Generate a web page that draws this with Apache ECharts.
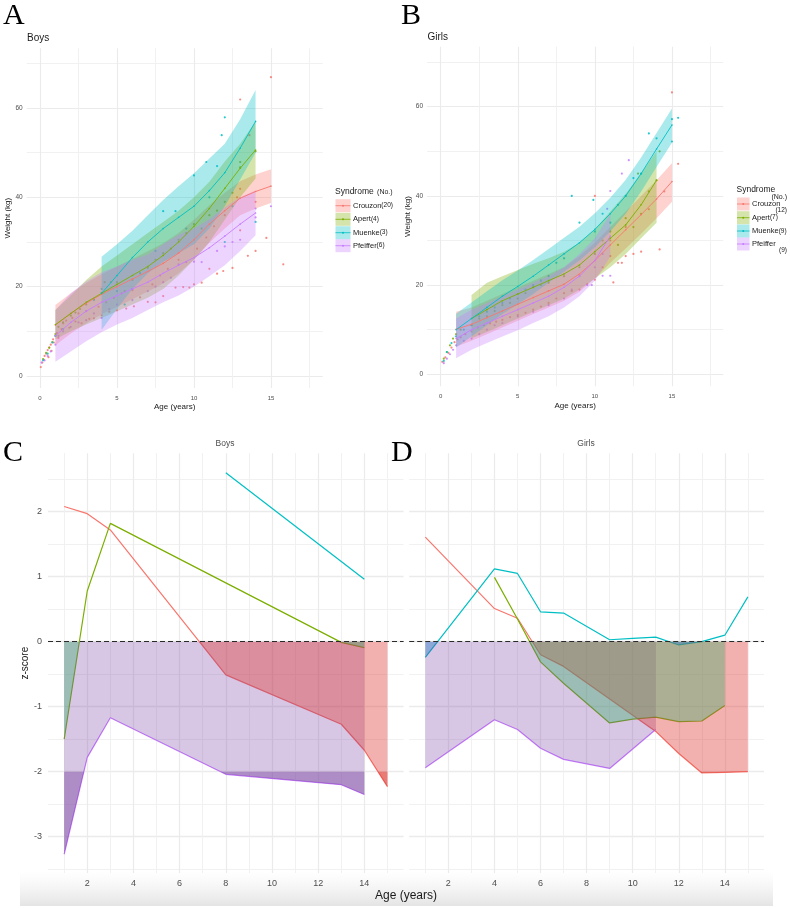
<!DOCTYPE html>
<html><head><meta charset="utf-8">
<script src="https://cdn.jsdelivr.net/npm/echarts@6/dist/echarts.min.js"></script>
<style>html,body{margin:0;padding:0;background:#fff}#c{width:790px;height:908px}</style>
</head><body><div id="c"></div>
<script>
// ---------- categories ----------
const syndromes = ['Crouzon','Apert','Muenke','Pfeiffer'];
const lineColors = ['#F8766D','#7CAE00','#00BFC4','#C77CFF'];
const zFillColors = ['#DE3934','#44AF6E','#1E78C8','#7D46A5'];
const boysCounts = [20,4,3,6];
const girlsCounts = [12,7,9,9];

// ---------- Panel A: boys weight ----------
const boysCrouzonAge  = [1,2,3,4,5,6,7,8,9,10,11,12,13,14,15];
const boysCrouzonMean = [11.4,14,16.3,18.3,20,21.7,23.4,25.2,27.5,30.5,34,37,39.8,41.3,42.5];
const boysCrouzonLow  = [6.9,9.5,11.8,13.8,15.5,17.2,18.9,20.7,23,26,29.8,33,36,37.5,38.7];
const boysCrouzonHigh = [15.9,18.5,20.8,22.8,24.5,26.2,27.9,29.7,32,35,38.2,41,43.6,45.1,46.3];
const boysApertAge  = [1,2,3,4,5,6,7,8,9,10,11,12,13,14];
const boysApertMean = [11.5,14,16.5,18.5,20.5,22.5,24.5,27,30,33.5,37.5,42,46.5,50.6];
const boysApertLow  = [8.2,10,11.5,13,14.5,16,17.5,19.5,22.5,26,30,35,40,44.2];
const boysApertHigh = [14.8,18,21.5,24.5,27,29.5,32,34.5,37,40,43.5,48,52,57];
const boysMuenkeAge  = [4,5,6,7,8,9,10,11,12,13,14];
const boysMuenkeMean = [18.5,22.5,26.5,30,33,35.5,38,41.5,45.5,51,57];
const boysMuenkeLow  = [10.3,15,19.5,23,25.5,27.5,29.5,33,38,44,50];
const boysMuenkeHigh = [26.7,29.5,32.5,36,39.4,42.5,45.4,48.7,52,57.5,64];
const boysPfeifferAge  = [1,2,3,4,5,6,7,8,9,10,11,12,13,14];
const boysPfeifferMean = [9,12,14.5,16.5,18,19.5,21,23,24.8,26.5,28.7,31.3,34,36.5];
const boysPfeifferLow  = [3.2,5.5,7.8,9.8,11.5,13,14.8,16.5,18,20,22.3,24.8,28,31.5];
const boysPfeifferHigh = [14.8,18.5,21.2,23.2,24.5,26,27.2,29.5,31.6,33,35.1,37.8,40,41.5];

const boysCrouzonPts = [[0.05,2],[0.15,3],[0.25,3.6],[0.3,4.5],[0.4,5],[0.5,5.8],[0.55,4.2],[0.6,6.4],[0.7,7],[0.75,5.6],[0.85,8.2],[0.9,7.5],[1,9],[1.1,9.6],[1.2,8.5],[1.4,10.5],[1.5,11.8],[1.7,12.4],[1.9,10.8],[2.1,13],[2.3,12.2],[2.5,14],[2.7,11.8],[3,14.5],[3.2,12.8],[3.5,12.9],[3.8,15.5],[4,13.6],[4.3,16.5],[4.5,14.4],[4.8,17.5],[5,14.7],[5.3,18.5],[5.6,15.1],[6,19.2],[6.1,15.6],[6.5,17.6],[7,16.6],[7.3,20.5],[7.5,16.5],[7.8,22.5],[8,17.9],[8.3,24],[8.8,19.8],[9,26],[9.3,19.9],[9.7,19.8],[10,20.5],[10.2,28.5],[10.5,20.9],[10.8,31],[11,24],[11.3,33.5],[11.5,22.9],[11.9,23.5],[12,36],[12.5,24.2],[12.8,40],[13,41.9],[13,32.6],[13,61.9],[13.6,53.9],[13.5,26.9],[14,28],[14,39],[14.7,30.9],[15.8,25],[15,66.9]];
const boysApertPts = [[0.2,3.8],[0.4,5.2],[0.6,6.3],[0.8,7.6],[1,9.4],[1.2,11],[1.5,12],[2,13.5],[2.3,14.2],[2.6,15],[3,16],[3.5,17.2],[4,18.6],[4.2,21],[4.6,21],[5,21],[5.5,19],[6,21.5],[6.5,23],[7,24.2],[7.5,26],[8,27.5],[8.5,28.5],[9,30.5],[9.5,32],[10,34],[10.5,33],[11,36],[11.5,37],[12,39],[12.5,41],[13,46.7],[13,47.9],[14,50.3]];
const boysMuenkePts = [[0.2,3.5],[0.5,5],[0.8,7.5],[1,9],[1.5,10.5],[3.5,17],[4,19.5],[5,19],[5.5,16],[6,19.5],[6.5,23],[7.5,28],[8,36.9],[8.8,36.9],[9.5,33],[10,44.9],[10.8,47.9],[11.5,47],[11.8,53.9],[12,57.9],[12,30],[14,34.5],[12.5,38],[11,40]];
const boysPfeifferPts = [[0.1,3],[0.3,3.5],[0.5,4.5],[0.7,5.5],[1,7],[1.2,9],[1.5,10],[2,11],[2.5,12],[3,12.5],[3.5,14],[4,13],[4.5,15],[5,16],[6,17],[7,19],[7.5,20],[8,21],[8.5,22],[9,25],[9.5,25.5],[10,25.6],[10.5,25.5],[11.5,28],[12,29],[12.5,30],[13,30.5],[14,35.5],[14,37.5],[15,38]];

// ---------- Panel B: girls weight ----------
const girlsCrouzonAge  = [1,2,3,4,5,6,7,8,9,10,11,12,13,14,15];
const girlsCrouzonMean = [10.1,11.2,12.7,14.2,15.7,17.2,18.7,20.2,22.5,25.5,29,32.4,35.8,39.3,43.2];
const girlsCrouzonLow  = [6.2,7.5,9,10.5,12,13.5,15,16.5,18.5,21.5,25,28.2,31.5,35,38.7];
const girlsCrouzonHigh = [14,15,16.5,18,19.5,21,22.5,24,26.5,29.5,33,36.5,40,43.5,47.3];
const girlsApertAge  = [2,3,4,5,6,7,8,9,10,11,12,13,14];
const girlsApertMean = [12.5,14.5,16.5,18,19.5,21,22.5,24.5,27.5,30.5,33.5,38,43.5];
const girlsApertLow  = [8.1,9.5,11,12.5,14,15.5,17,19,21.5,24,27,30.5,34];
const girlsApertHigh = [17.8,20.5,22,23.4,24.8,26,27.5,29.5,32.5,36.5,40.5,45,50];
const girlsMuenkeAge  = [1,2,3,4,5,6,7,8,9,10,11,12,13,14,15];
const girlsMuenkeMean = [10,12.5,15,17.5,19.7,22,24.5,27,29.5,32.5,36,40,45,50.5,55.9];
const girlsMuenkeLow  = [6,8.5,11,13.5,15.7,18,20.5,23,25.5,28.5,32,36,41,46.5,51.9];
const girlsMuenkeHigh = [13.6,16.1,18.6,21.1,23.3,25.6,28.1,30.6,33.1,36.1,39.6,43.6,48.6,54.1,59.6];
const girlsPfeifferAge  = [1,2,3,4,5,6,7,8,9,10,11];
const girlsPfeifferMean = [8,10,11.5,13,14.5,16,17.5,19.5,22,25.5,31];
const girlsPfeifferLow  = [3.6,5.5,7,8.5,9.9,11.5,13,15,17.5,21,26.4];
const girlsPfeifferHigh = [12.5,14.5,16,17.5,19,20.5,22,24,27,30.5,36];

const girlsCrouzonPts = [[0.1,2.8],[0.3,3.8],[0.5,4.8],[0.7,6],[0.9,7.2],[1.1,7.8],[1.3,8.3],[1.6,9],[2,9.6],[2.4,10.5],[2.8,11],[3.2,11.4],[3.6,11.8],[4,12.2],[4.5,12.8],[5,13.3],[5.5,13.8],[6,14.5],[6.5,15.2],[7,16],[7.5,17],[8,18.2],[8.5,18.7],[9,19],[9.5,20.2],[10,21.2],[10,40],[10.5,24],[11,26.5],[11.2,20.6],[11.5,25],[11.75,25],[12,26.5],[12.5,27],[13,27.5],[14.2,28],[12,33],[11,30],[13.5,37],[14.5,41],[15,63.2],[15.4,47.2]];
const girlsApertPts = [[0.2,3.5],[0.4,5],[0.6,6.5],[0.8,8],[1,9],[1.3,10],[2,11],[2.5,12.5],[3,13],[3.5,14.2],[4,15.5],[4.5,16],[5,17],[5.5,18.2],[6,19.5],[6.5,20],[7,20.5],[8,22],[9,24],[10,27],[10.5,30],[11,32],[11.5,29],[12,35],[12.5,33],[13,36],[12.8,45],[13.5,41],[14,43.5],[14.2,50]];
const girlsMuenkePts = [[0.2,3],[0.4,5],[0.7,7],[1,8.5],[1.5,10],[2,11],[2.5,13],[3,14],[3.5,15],[4,16],[4.5,17],[5,18],[5.5,19],[6,20],[6.5,21],[7,22],[7.5,25],[8,26],[8.5,40],[9,34],[9.9,39.1],[10,32],[10.5,36],[11,34],[11.5,38],[12,40],[12.5,44],[13,45],[13.5,54],[14,52.9],[15,57.2],[15,52.2],[15.4,57.5]];
const girlsPfeifferPts = [[0.2,2.5],[0.4,3.5],[0.6,4.5],[0.8,5.5],[1,6.5],[1.5,7.5],[2,8],[2.5,9],[3,10],[3.5,11],[4,11.5],[5,13],[6,14],[7,15.5],[8,17],[8.5,19],[9,22],[9.5,20],[9.8,20],[10,24],[10.5,22.1],[11,22.1],[10.8,37.1],[11,41.1],[11.75,45],[12.2,48],[10.5,27]];

// ---------- Panel C: boys z-scores ----------
const boysZCrouzonAge = [1,2,3,8,13,14,15];
const boysZCrouzon    = [2.08,1.97,1.72,-0.51,-1.27,-1.67,-2.23];
const boysZApertAge   = [1,2,3,13,14];
const boysZApert      = [-1.5,0.78,1.82,-0.01,-0.09];
const boysZMuenkeAge  = [8,14];
const boysZMuenke     = [2.6,0.96];
const boysZPfeifferAge= [1,2,3,8,13,14];
const boysZPfeiffer   = [-3.27,-1.78,-1.17,-2.04,-2.2,-2.35];

// ---------- Panel D: girls z-scores ----------
const girlsZCrouzonAge = [1,4,5,6,7,11,12,13,14,15];
const girlsZCrouzon    = [1.61,0.51,0.36,-0.2,-0.38,-1.38,-1.72,-2.02,-2.01,-2.0];
const girlsZApertAge   = [4,5,6,7,9,10,11,12,13,14];
const girlsZApert      = [0.99,0.35,-0.31,-0.64,-1.25,-1.19,-1.16,-1.23,-1.22,-0.98];
const girlsZMuenkeAge  = [1,4,5,6,7,9,10,11,12,13,14,15];
const girlsZMuenke     = [-0.24,1.12,1.05,0.46,0.44,0.03,0.05,0.07,-0.05,0.0,0.1,0.69];
const girlsZPfeifferAge= [1,4,5,6,7,9,11];
const girlsZPfeiffer   = [-1.94,-1.2,-1.35,-1.64,-1.81,-1.95,-1.35];

const zThresholds = [0,-2];

// ---------- helpers ----------
const FONT = '"Liberation Sans", Arial, sans-serif';
const SERIF = '"Liberation Serif", "Times New Roman", serif';
function rgba(hex,a){const n=parseInt(hex.slice(1),16);return 'rgba('+(n>>16)+','+((n>>8)&255)+','+(n&255)+','+a+')';}
function zip(xs,ys){return xs.map((x,i)=>[x,ys[i]]);}

function ribbon(gi,xs,lo,hi,fill,z){
  return {type:'custom',xAxisIndex:gi,yAxisIndex:gi,silent:true,z:z,animation:false,
    data:[[xs[0],lo[0]]],
    renderItem:function(p,api){
      const pts=[];
      for(let i=0;i<xs.length;i++)pts.push(api.coord([xs[i],hi[i]]));
      for(let i=xs.length-1;i>=0;i--)pts.push(api.coord([xs[i],lo[i]]));
      return {type:'polygon',shape:{points:pts},style:{fill:fill}};
    }};
}
function belowPts(xs,zs,t){
  const pts=[[xs[0],t]];
  for(let i=0;i<xs.length;i++){
    if(i>0){const z0=zs[i-1],z1=zs[i];
      if((z0-t)*(z1-t)<0){const f=(t-z0)/(z1-z0);pts.push([xs[i-1]+f*(xs[i]-xs[i-1]),t]);}}
    pts.push([xs[i],Math.min(zs[i],t)]);
  }
  pts.push([xs[xs.length-1],t]);
  return pts;
}
function zFill(gi,xs,zs,t,fill,z){
  const poly=belowPts(xs,zs,t);
  return {type:'custom',xAxisIndex:gi,yAxisIndex:gi,silent:true,z:z,animation:false,
    data:[[xs[0],t]],
    renderItem:function(p,api){
      return {type:'polygon',shape:{points:poly.map(q=>api.coord(q))},style:{fill:fill}};
    }};
}
function axis(gi,min,max,split,o){
  return Object.assign({gridIndex:gi,type:'value',min:min,max:max,splitNumber:split,
    axisLine:{show:false},axisTick:{show:false},
    axisLabel:{show:o.labels!==false,fontSize:o.fs,color:'#4d4d4d',margin:o.margin,fontFamily:FONT,showMinLabel:false,showMaxLabel:false},
    splitLine:{show:true,showMinLine:false,showMaxLine:false,lineStyle:{color:'#ebebeb',width:o.major||1.1}},
    minorTick:{show:false,splitNumber:2},
    minorSplitLine:{show:true,lineStyle:{color:'#efefef',width:0.9}},
    nameTextStyle:{fontFamily:FONT,fontSize:o.nfs||8,color:'#1a1a1a'}
  },o.extra||{});
}

// ---------- series ----------
const series=[];
const boysW=[[boysCrouzonAge,boysCrouzonMean,boysCrouzonLow,boysCrouzonHigh,boysCrouzonPts],
  [boysApertAge,boysApertMean,boysApertLow,boysApertHigh,boysApertPts],
  [boysMuenkeAge,boysMuenkeMean,boysMuenkeLow,boysMuenkeHigh,boysMuenkePts],
  [boysPfeifferAge,boysPfeifferMean,boysPfeifferLow,boysPfeifferHigh,boysPfeifferPts]];
const girlsW=[[girlsCrouzonAge,girlsCrouzonMean,girlsCrouzonLow,girlsCrouzonHigh,girlsCrouzonPts],
  [girlsApertAge,girlsApertMean,girlsApertLow,girlsApertHigh,girlsApertPts],
  [girlsMuenkeAge,girlsMuenkeMean,girlsMuenkeLow,girlsMuenkeHigh,girlsMuenkePts],
  [girlsPfeifferAge,girlsPfeifferMean,girlsPfeifferLow,girlsPfeifferHigh,girlsPfeifferPts]];
[boysW,girlsW].forEach((set,gi)=>{
  set.forEach((d,k)=>{
    const c=lineColors[k];
    series.push({type:'scatter',name:syndromes[k],xAxisIndex:gi,yAxisIndex:gi,data:d[4],symbolSize:2.2,
      itemStyle:{color:c,opacity:0.85},silent:true,z:2,animation:false});
    series.push(ribbon(gi,d[0],d[2],d[3],rgba(c,0.33),3));
    series.push({type:'line',xAxisIndex:gi,yAxisIndex:gi,data:zip(d[0],d[1]),symbol:'circle',symbolSize:1.6,
      showSymbol:true,itemStyle:{color:c},lineStyle:{color:c,width:0.9},silent:true,z:4,animation:false});
  });
});
const boysZ=[[boysZCrouzonAge,boysZCrouzon],[boysZApertAge,boysZApert],[boysZMuenkeAge,boysZMuenke],[boysZPfeifferAge,boysZPfeiffer]];
const girlsZ=[[girlsZCrouzonAge,girlsZCrouzon],[girlsZApertAge,girlsZApert],[girlsZMuenkeAge,girlsZMuenke],[girlsZPfeifferAge,girlsZPfeiffer]];
const fillOrder=[3,0,1,2];
[boysZ,girlsZ].forEach((set,j)=>{
  const gi=2+j;
  set.forEach((d,k)=>{
    series.push({type:'line',xAxisIndex:gi,yAxisIndex:gi,data:zip(d[0],d[1]),showSymbol:false,
      lineStyle:{color:lineColors[k],width:1.2},silent:true,z:3,animation:false});
  });
  fillOrder.forEach((k,o)=>{
    const d=set[k];
    series.push(zFill(gi,d[0],d[1],zThresholds[0],rgba(zFillColors[k],k===3?0.3:0.4),4+o*0.1));
    series.push(zFill(gi,d[0],d[1],zThresholds[1],rgba(zFillColors[k],0.45),4.05+o*0.1));
  });
  series.push({type:'line',xAxisIndex:gi,yAxisIndex:gi,data:[],silent:true,z:6,animation:false,
    markLine:{silent:true,symbol:['none','none'],animation:false,label:{show:false},
      lineStyle:{type:[5,3],color:'#2a2a2a',width:1.1},data:[{yAxis:0}]}});
});

// ---------- legends / texts ----------
const graphic=[];
graphic.push({type:'rect',z:-5,shape:{x:20,y:872,width:753,height:34},
  style:{fill:new echarts.graphic.LinearGradient(0,0,0,1,[{offset:0,color:'rgba(238,238,238,0)'},{offset:1,color:'#e4e4e4'}])}});
function txt(x,y,s,fs,opt){
  return Object.assign({type:'text',x:x,y:y,style:Object.assign({text:s,fontSize:fs,fontFamily:FONT,fill:'#1a1a1a',verticalAlign:'middle',align:'left'},opt||{})});
}
graphic.push(txt(3,16.5,'A',30,{fontFamily:SERIF,fill:'#000'}));
graphic.push(txt(401,16.5,'B',30,{fontFamily:SERIF,fill:'#000'}));
graphic.push(txt(3,453,'C',30,{fontFamily:SERIF,fill:'#000'}));
graphic.push(txt(391,453,'D',30,{fontFamily:SERIF,fill:'#000'}));
graphic.push(txt(27,38.5,'Boys',10));
graphic.push(txt(427.5,37,'Girls',10));
graphic.push(txt(225,444,'Boys',8.5,{align:'center',fill:'#4d4d4d'}));
graphic.push(txt(586,444,'Girls',8.5,{align:'center',fill:'#4d4d4d'}));
graphic.push(txt(406,896,'Age (years)',12,{align:'center'}));

function legend(x0,titleY,rows,boxW,counts,wrap){
  if(!wrap){
    graphic.push({type:'text',x:x0,y:titleY,style:{text:'{a|Syndrome} {b|(No.)}',verticalAlign:'middle',
      rich:{a:{fontSize:8.5,fontFamily:FONT,fill:'#1a1a1a'},b:{fontSize:7,fontFamily:FONT,fill:'#1a1a1a'}}}});
  } else {
    graphic.push(txt(x0,titleY,'Syndrome',8.5));
    graphic.push(txt(787,titleY+7,'(No.)',7,{align:'right'}));
  }
  rows.forEach((yc,k)=>{
    const c=lineColors[k];
    graphic.push({type:'rect',shape:{x:x0+0.5,y:yc-6.5,width:boxW,height:13},style:{fill:rgba(c,0.33)}});
    graphic.push({type:'line',shape:{x1:x0+0.5,y1:yc,x2:x0+0.5+boxW,y2:yc},style:{stroke:c,lineWidth:0.8}});
    graphic.push({type:'circle',shape:{cx:x0+0.5+boxW/2,cy:yc,r:1},style:{fill:c}});
    const tx=x0+boxW+3;
    const estW=syndromes[k].length*4.1+String(counts[k]).length*3.6+8;
    if(wrap && tx+estW>790){
      graphic.push(txt(tx,yc,syndromes[k],7.5));
      graphic.push(txt(787,yc+6.5,'('+counts[k]+')',6.5,{align:'right'}));
    } else {
      graphic.push({type:'text',x:tx,y:yc,style:{text:'{a|'+syndromes[k]+'}{b|('+counts[k]+')}',verticalAlign:'middle',
        rich:{a:{fontSize:7.5,fontFamily:FONT,fill:'#1a1a1a'},b:{fontSize:6.5,fontFamily:FONT,fill:'#1a1a1a'}}}});
    }
  });
}
legend(335,191.7,[205.7,219.3,232.7,245.7],15,boysCounts,false);
legend(736.5,190,[204,217.7,231,244],12.5,girlsCounts,true);

const option={
  animation:false,
  backgroundColor:'#ffffff',
  grid:[
    {left:26.7,top:48.3,width:296,height:339.7},
    {left:427,top:46.7,width:296.3,height:339.6},
    {left:48,top:453.2,width:355.6,height:419.9},
    {left:409.2,top:453.2,width:354.8,height:419.9}
  ],
  xAxis:[
    axis(0,-0.864,18.36,4,{fs:6,margin:7,extra:{name:'Age (years)',nameLocation:'middle',nameGap:15}}),
    axis(1,-0.888,18.33,4,{fs:6,margin:7,extra:{name:'Age (years)',nameLocation:'middle',nameGap:15}}),
    axis(2,0.3,15.7,8,{fs:9,margin:6,major:1.2}),
    axis(3,0.3,15.7,8,{fs:9,margin:6,major:1.2})
  ],
  yAxis:[
    axis(0,-2.69,73.36,4,{fs:6.5,margin:4,extra:{name:'Weight (kg)',nameLocation:'middle',nameGap:14,nameRotate:90}}),
    axis(1,-2.69,73.45,4,{fs:6.5,margin:4,extra:{name:'Weight (kg)',nameLocation:'middle',nameGap:14,nameRotate:90}}),
    axis(2,-3.56,2.9,6,{fs:9,margin:6,major:1.4,nfs:10,extra:{name:'z-score',nameLocation:'middle',nameGap:18,nameRotate:90}}),
    axis(3,-3.56,2.9,6,{fs:9,margin:6,major:1.4,labels:false})
  ],
  series:series,
  graphic:graphic
};
const chart=echarts.init(document.getElementById('c'));
chart.setOption(option);
</script></body></html>
